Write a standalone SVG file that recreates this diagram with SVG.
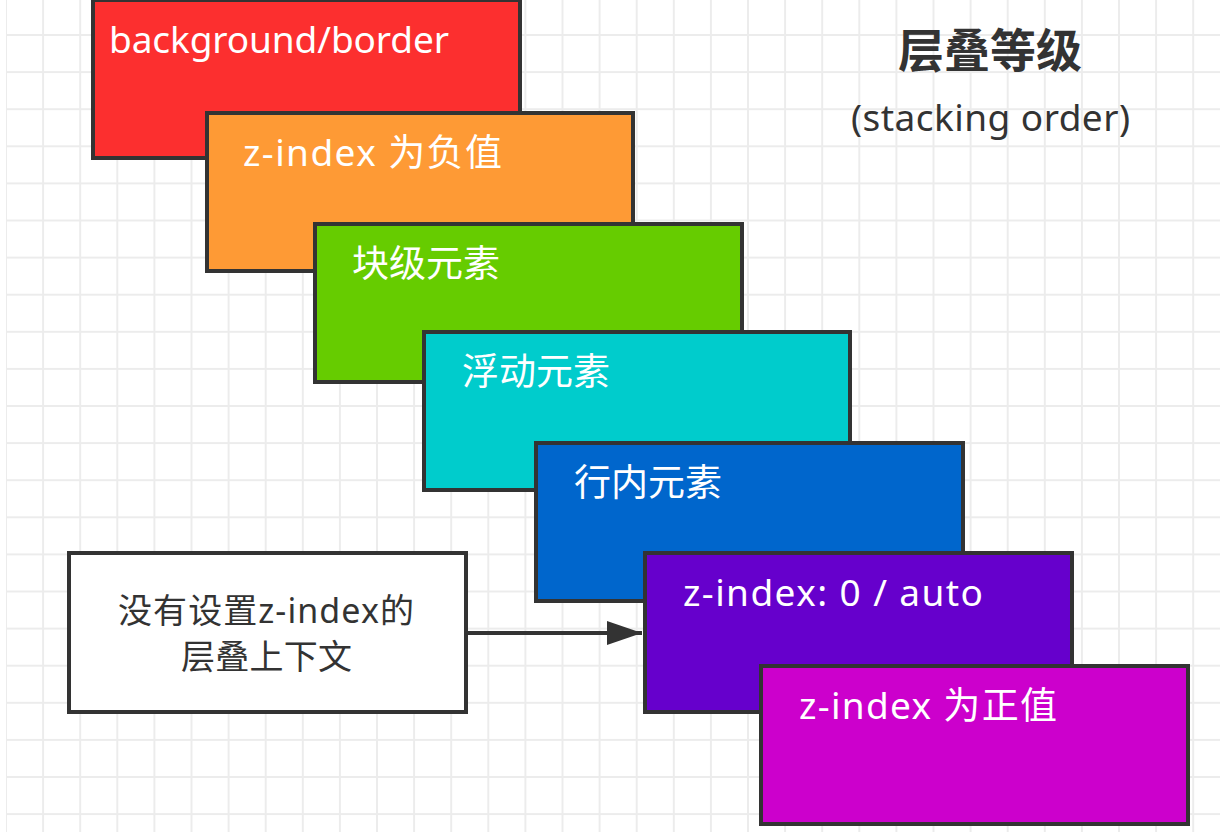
<svg xmlns="http://www.w3.org/2000/svg" width="1220" height="832" viewBox="0 0 1220 832">
  <defs>
    <pattern id="grid" patternUnits="userSpaceOnUse" x="-12.55" y="-20.65" width="37.1" height="37.1">
      <line x1="18.55" y1="0" x2="18.55" y2="37.1" stroke="#ececec" stroke-width="2"/>
      <line x1="0" y1="18.55" x2="37.1" y2="18.55" stroke="#ececec" stroke-width="2"/>
    </pattern>
    <marker id="arrow" markerUnits="userSpaceOnUse" markerWidth="36" markerHeight="24" refX="35" refY="12" orient="auto">
      <path d="M0,0 L35,12 L0,24 Z" fill="#333"/>
    </marker>
  </defs>
  <style>
    .box { stroke: #333; stroke-width: 4; }
    .lbl { font-family: "Noto Sans", "Noto Sans CJK SC", sans-serif; font-size: 37px; fill: #ffffff; }
    .dark { font-family: "Noto Sans", "Noto Sans CJK SC", sans-serif; fill: #333333; }
  </style>
  <rect x="0" y="0" width="1220" height="832" fill="#ffffff"/>
  <rect x="6" y="0" width="1214" height="832" fill="url(#grid)"/>

  <g id="title">
    <text class="dark" x="990" y="67" font-size="46" font-weight="bold" text-anchor="middle">层叠等级</text>
    <text class="dark" x="990.5" y="131" font-size="37" text-anchor="middle" textLength="279" lengthAdjust="spacing">(stacking order)</text>
  </g>

  <g id="node-background">
    <rect class="box" x="93" y="0" width="427" height="158" fill="#fc2f2f"/>
    <text class="lbl" x="109" y="53" textLength="340" lengthAdjust="spacing">background/border</text>
  </g>
  <g id="node-negative">
    <rect class="box" x="207" y="113" width="426" height="158" fill="#fe9a35"/>
    <text class="lbl" x="243" y="166" textLength="259" lengthAdjust="spacing">z-index 为负值</text>
  </g>
  <g id="node-block">
    <rect class="box" x="315" y="224" width="427" height="158" fill="#66cc00"/>
    <text class="lbl" x="352" y="277">块级元素</text>
  </g>
  <g id="node-float">
    <rect class="box" x="424" y="332" width="426" height="158" fill="#00cccc"/>
    <text class="lbl" x="462" y="385">浮动元素</text>
  </g>
  <g id="node-inline">
    <rect class="box" x="536" y="443" width="427" height="158" fill="#0066cc"/>
    <text class="lbl" x="574" y="496">行内元素</text>
  </g>
  <g id="node-zero">
    <rect class="box" x="645" y="553" width="427" height="159" fill="#6600cc"/>
    <text class="lbl" x="683" y="606" textLength="300" lengthAdjust="spacing">z-index: 0 / auto</text>
  </g>
  <g id="node-positive">
    <rect class="box" x="761" y="666" width="427" height="158" fill="#cc00cc"/>
    <text class="lbl" x="799" y="719" textLength="258" lengthAdjust="spacing">z-index 为正值</text>
  </g>

  <g id="node-context">
    <rect class="box" x="69" y="553" width="397" height="159" fill="#ffffff"/>
    <text class="dark" x="118" y="623" font-size="34" textLength="296" lengthAdjust="spacing">没有设置z-index的</text>
    <text class="dark" x="181" y="669" font-size="34" textLength="171" lengthAdjust="spacing">层叠上下文</text>
  </g>

  <g id="connectors">
    <line x1="468" y1="633" x2="642" y2="633" stroke="#333" stroke-width="4" marker-end="url(#arrow)"/>
  </g>
</svg>
